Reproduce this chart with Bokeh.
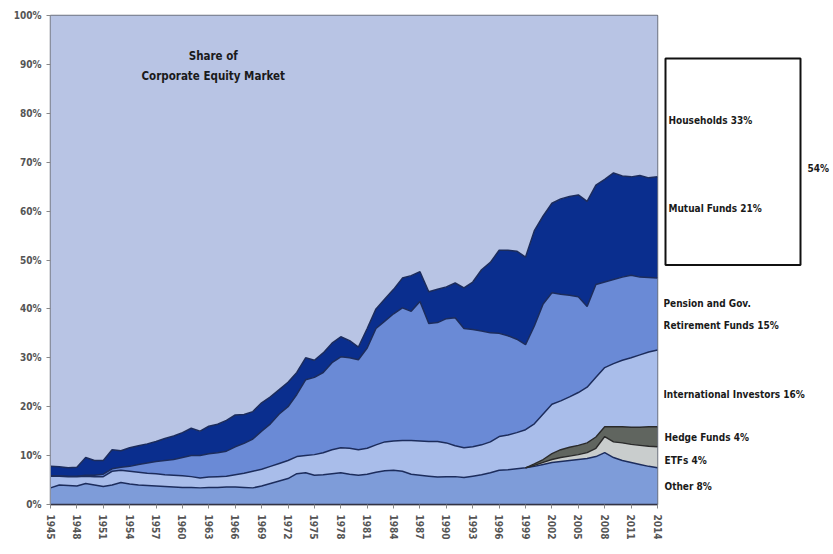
import numpy as np
from bokeh.plotting import figure
from bokeh.models import FixedTicker, PrintfTickFormatter, ColumnDataSource, Range1d, Label
from bokeh.layouts import row
from bokeh.embed import file_html
from bokeh.resources import INLINE
from bokeh.core.properties import value

# ---------------- data (share of corporate equity market, %) ----------------
years = list(range(1945, 2015))

other = [3.4, 4.0, 3.9, 3.8, 4.3, 4.0, 3.7, 4.0, 4.5, 4.2,
         4.0, 3.9, 3.8, 3.7, 3.6, 3.5, 3.5, 3.4, 3.5, 3.5,
         3.6, 3.6, 3.5, 3.4, 3.8, 4.3, 4.8, 5.3, 6.3, 6.5,
         6.0, 6.1, 6.3, 6.5, 6.2, 6.0, 6.2, 6.6, 6.9, 7.0,
         6.8, 6.2, 6.0, 5.8, 5.6, 5.7, 5.7, 5.5, 5.8, 6.1,
         6.5, 7.0, 7.1, 7.3, 7.5, 7.8, 8.2, 8.6, 8.8, 9.0,
         9.2, 9.4, 9.8, 10.6, 9.6, 9.0, 8.6, 8.2, 7.8, 7.5]

etfs = [0, 0, 0, 0, 0, 0, 0, 0, 0, 0,
        0, 0, 0, 0, 0, 0, 0, 0, 0, 0,
        0, 0, 0, 0, 0, 0, 0, 0, 0, 0,
        0, 0, 0, 0, 0, 0, 0, 0, 0, 0,
        0, 0, 0, 0, 0, 0, 0, 0, 0, 0,
        0, 0, 0, 0, 0, 0.2, 0.4, 0.6, 0.8, 0.9,
        1.0, 1.2, 1.7, 3.3, 3.2, 3.6, 3.7, 3.9, 4.1, 4.3]

hedge = [0, 0, 0, 0, 0, 0, 0, 0, 0, 0,
         0, 0, 0, 0, 0, 0, 0, 0, 0, 0,
         0, 0, 0, 0, 0, 0, 0, 0, 0, 0,
         0, 0, 0, 0, 0, 0, 0, 0, 0, 0,
         0, 0, 0, 0, 0, 0, 0, 0, 0, 0,
         0, 0, 0, 0, 0, 0.3, 0.6, 1.2, 1.6, 1.8,
         1.9, 2.0, 2.3, 2.0, 3.1, 3.3, 3.5, 3.7, 4.0, 4.1]

intl = [2.4, 1.8, 1.8, 1.9, 1.5, 1.7, 2.0, 2.8, 2.5, 2.6,
        2.6, 2.5, 2.5, 2.4, 2.4, 2.4, 2.2, 2.0, 2.1, 2.2,
        2.2, 2.5, 2.9, 3.4, 3.4, 3.5, 3.6, 3.7, 3.5, 3.5,
        4.2, 4.5, 4.9, 5.1, 5.3, 5.2, 5.3, 5.6, 5.9, 6.0,
        6.3, 6.9, 7.0, 7.1, 7.3, 6.9, 6.3, 6.1, 6.0, 6.1,
        6.3, 6.9, 7.1, 7.4, 7.8, 8.2, 9.3, 10.1, 10.0, 10.3,
        10.8, 11.4, 12.2, 12.1, 12.9, 13.6, 14.2, 14.8, 15.3, 15.7]

pension = [0.1, 0.1, 0.1, 0.1, 0.2, 0.3, 0.5, 0.5, 0.6, 1.0,
           1.6, 2.1, 2.5, 2.9, 3.2, 3.7, 4.3, 4.6, 4.8, 4.9,
           5.1, 5.7, 6.1, 6.6, 7.8, 8.7, 10.1, 11.0, 12.7, 15.5,
           15.8, 16.4, 17.8, 18.6, 18.5, 18.4, 20.5, 23.8, 24.7, 26.0,
           27.1, 26.4, 28.5, 24.1, 24.3, 25.4, 26.2, 24.4, 24.0, 23.3,
           22.3, 21.1, 20.3, 19.1, 17.4, 20.0, 22.5, 22.8, 21.8, 20.8,
           19.6, 16.5, 19.0, 17.5, 17.2, 17.0, 16.9, 15.9, 15.2, 14.7]

mutual = [1.9, 1.8, 1.7, 1.8, 3.6, 3.0, 2.8, 3.9, 3.4, 3.8,
          3.8, 3.9, 4.1, 4.5, 4.8, 5.1, 5.6, 5.0, 5.6, 5.8,
          6.3, 6.5, 5.9, 5.6, 5.8, 5.5, 5.0, 5.0, 4.5, 4.5,
          3.5, 4.0, 4.0, 4.1, 3.5, 2.6, 4.0, 4.0, 4.5, 5.0,
          6.1, 7.3, 6.1, 6.5, 6.8, 6.5, 7.1, 8.3, 9.7, 12.5,
          14.4, 17.0, 17.5, 18.0, 17.9, 19.5, 18.0, 18.3, 19.5, 20.2,
          20.8, 21.5, 20.3, 21.0, 21.8, 20.7, 20.1, 20.8, 20.4, 20.7]

x_tick_years = [1945, 1948, 1951, 1954, 1957, 1960, 1963, 1966, 1969, 1972,
                1975, 1978, 1981, 1984, 1987, 1990, 1993, 1996, 1999, 2002,
                2005, 2008, 2011, 2014]
y_ticks = [0, 10, 20, 30, 40, 50, 60, 70, 80, 90, 100]

legend_labels = ["Households 33%", "Mutual Funds 21%", "54%",
                 "Pension and Gov.", "Retirement Funds 15%",
                 "International Investors 16%", "Hedge Funds 4%",
                 "ETFs 4%", "Other 8%"]
chart_title = ["Share of", "Corporate Equity Market"]

# ---------------- build stacked table ----------------
layers = ["other", "etfs", "hedge", "intl", "pension", "mutual", "households"]
arr = {k: np.array(v, dtype=float) for k, v in
       zip(layers[:-1], [other, etfs, hedge, intl, pension, mutual])}
total = sum(arr.values())
arr["households"] = 100.0 - total
data = {"year": years}
data.update({k: arr[k] for k in layers})
src = ColumnDataSource(data)

colors = {
    "other": "#7e9cd9",
    "etfs": "#c9cdcd",
    "hedge": "#60655f",
    "intl": "#a9bdea",
    "pension": "#6a8ad6",
    "mutual": "#0a2e8e",
    "households": "#b8c4e4",
}

FONT = "'DejaVu Sans Condensed', Roboto, sans-serif"

p = figure(frame_width=607, frame_height=489,
           min_border_left=50, min_border_right=6, min_border_top=15, min_border_bottom=48,
           x_range=Range1d(1945, 2014), y_range=Range1d(0, 100),
           output_backend="svg", toolbar_location=None,
           background_fill_color="#b8c4e4", border_fill_color="white")

p.varea_stack(stackers=layers, x="year", source=src,
              color=[colors[k] for k in layers])

# boundary lines
cum = np.zeros(len(years))
yrs = np.array(years)
for k in layers[:-1]:
    cum = cum + arr[k]
    if k in ("etfs", "hedge"):
        m = yrs >= 1999
        p.line(yrs[m], cum[m], line_color="#2a2a2a", line_width=1.4)
    else:
        p.line(yrs, cum.copy(), line_color="#1c2c5c", line_width=1.5)

p.xgrid.visible = False
p.ygrid.visible = False
p.outline_line_color = "#6f7480"
p.outline_line_width = 1.5

p.xaxis.ticker = FixedTicker(ticks=x_tick_years)
p.xaxis.major_label_orientation = "vertical"
p.xaxis.minor_tick_line_color = None
p.xaxis.axis_line_color = "#333344"
p.xaxis.axis_line_width = 1.5
p.xaxis.major_tick_line_color = "#888888"
p.xaxis.major_tick_in = 0
p.xaxis.major_tick_out = 4
p.xaxis.major_label_standoff = 6

p.yaxis.ticker = FixedTicker(ticks=y_ticks)
p.yaxis.formatter = PrintfTickFormatter(format="%d%%")
p.yaxis.minor_tick_line_color = None
p.yaxis.axis_line_color = "#8a90a0"
p.yaxis.major_tick_line_color = "#888888"
p.yaxis.major_tick_in = 0
p.yaxis.major_tick_out = 4

for ax in (p.xaxis, p.yaxis):
    ax.major_label_text_font = FONT
    ax.major_label_text_font_style = "bold"
    ax.major_label_text_font_size = "10px"
    ax.major_label_text_color = "#555555"

for i, t in enumerate(chart_title):
    p.add_layout(Label(x=1963.5, y=91.8 - 4.1 * i, text=t, text_align="center",
                       text_baseline="middle", text_font=FONT, text_font_style="bold",
                       text_font_size="11.5px", text_color="#1a1a1a"))

# ---------------- right-hand legend panel ----------------
q = figure(frame_width=168, frame_height=489,
           min_border_left=0, min_border_right=0, min_border_top=15, min_border_bottom=48,
           x_range=Range1d(0, 168), y_range=Range1d(0, 100),
           output_backend="svg", toolbar_location=None,
           background_fill_color="white", border_fill_color="white")
q.axis.visible = False
q.grid.visible = False
q.outline_line_color = None

q.quad(left=2, right=137, bottom=49.0, top=91.2, fill_color=None,
       line_color="#111111", line_width=2)

legend_pos = [(5, 78.5), (5, 60.5), (144, 68.7),
              (0, 41.2), (0, 36.7),
              (0, 22.5), (1, 13.8), (1, 9.0), (1, 3.6)]
for (lx, ly), t in zip(legend_pos, legend_labels):
    q.add_layout(Label(x=lx, y=ly, text=t, text_align="left", text_baseline="middle",
                       text_font=FONT, text_font_style="bold",
                       text_font_size="10px", text_color="#1a1a1a"))

layout = row(p, q)
open("out.html", "w").write(file_html(layout, INLINE))
